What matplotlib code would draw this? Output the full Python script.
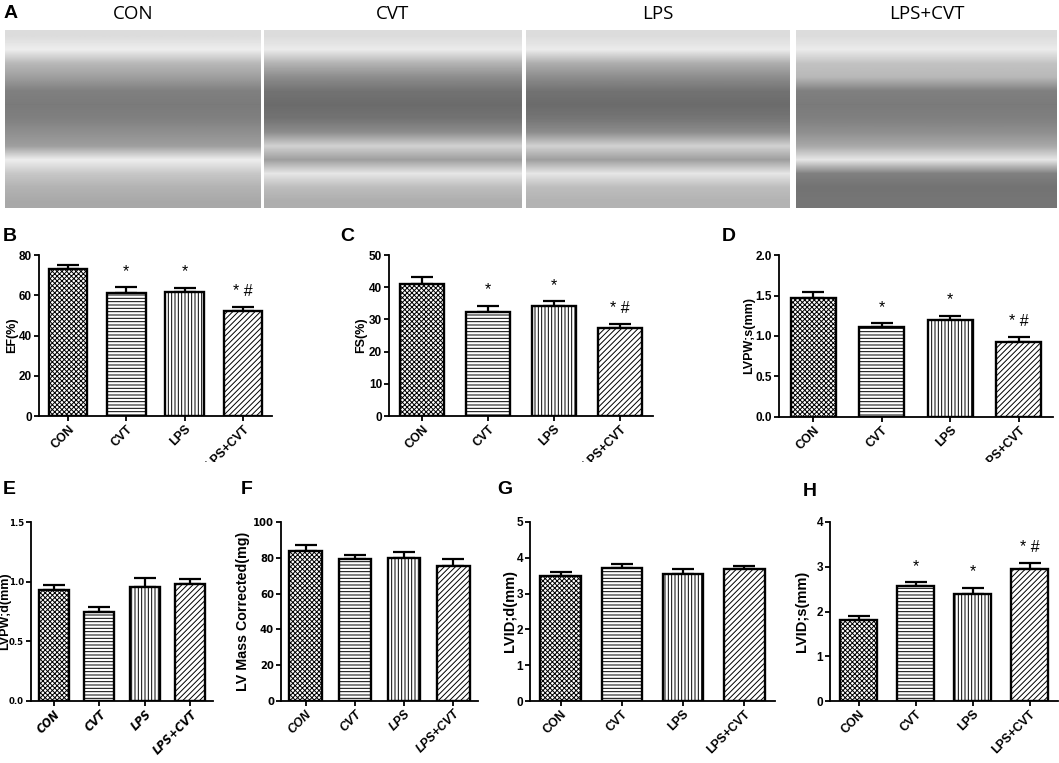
import matplotlib
matplotlib.use('Agg')
import matplotlib.pyplot as plt
import numpy as np
from matplotlib import font_manager as fm
from matplotlib.font_manager import FontProperties
from matplotlib.transforms import Bbox, TransformedBbox

# ---------------- data ----------------
groups = ['CON', 'CVT', 'LPS', 'LPS+CVT']

ef_mean = [72.8, 61.3, 61.4, 52.3]
ef_sem = [2.2, 2.8, 2.3, 1.7]
fs_mean = [40.9, 32.4, 34.3, 27.4]
fs_sem = [2.2, 1.9, 1.4, 1.2]
lvpws_mean = [1.465, 1.11, 1.20, 0.93]
lvpws_sem = [0.075, 0.05, 0.05, 0.055]
lvpwd_mean = [0.926, 0.747, 0.957, 0.982]
lvpwd_sem = [0.042, 0.042, 0.076, 0.038]
lvmass_mean = [83.8, 79.4, 79.8, 75.3]
lvmass_sem = [3.3, 2.3, 3.6, 4.1]
lvidd_mean = [3.48, 3.72, 3.56, 3.68]
lvidd_sem = [0.11, 0.12, 0.12, 0.10]
lvids_mean = [1.80, 2.56, 2.38, 2.94]
lvids_sem = [0.10, 0.09, 0.15, 0.14]

sig_main = ['', '*', '*', '* #']
sig_none = ['', '', '', '']

# grey-level profiles (top -> bottom) of the M-mode echo images
echo_con = [0.86, 0.93, 0.72, 0.62, 0.50, 0.48, 0.50, 0.56, 0.62, 0.93, 0.78, 0.70, 0.66]
echo_cvt = [0.86, 0.92, 0.70, 0.55, 0.45, 0.42, 0.45, 0.55, 0.82, 0.62, 0.90, 0.74, 0.68]
echo_lps = [0.86, 0.92, 0.68, 0.55, 0.45, 0.42, 0.46, 0.55, 0.82, 0.62, 0.90, 0.74, 0.70]
echo_lpscvt = [0.86, 0.92, 0.76, 0.72, 0.50, 0.48, 0.50, 0.56, 0.66, 0.90, 0.50, 0.45, 0.46]

# ---------------- style ----------------
W, H = 1059, 763
available = {f.name for f in fm.fontManager.ttflist}
SANS = 'Liberation Sans' if 'Liberation Sans' in available else 'DejaVu Sans'
TITLEF = 'Open Sans' if 'Open Sans' in available else SANS


def find_font(*keys):
    for f in fm.fontManager.ttflist:
        base = f.fname.split('/')[-1]
        if all(k in base for k in keys):
            return f.fname
    return None


narrow_bold = find_font('LiberationSansNarrow-Bold.')
if narrow_bold is None:
    narrow_bold = find_font('DejaVuSansCondensed-Bold.')
narrow_bolditalic = find_font('LiberationSansNarrow-BoldItalic')
if narrow_bolditalic is None:
    narrow_bolditalic = find_font('DejaVuSansCondensed-BoldOblique')


def fp(size, style='normal', narrow=False):
    if narrow:
        path = narrow_bolditalic if style == 'italic' else narrow_bold
        if path is not None:
            return FontProperties(fname=path, size=size)
    return FontProperties(family=SANS, weight='bold', style=style, size=size)


plt.rcParams['font.family'] = [SANS, 'DejaVu Sans']
plt.rcParams['hatch.linewidth'] = 0.7

fig = plt.figure(figsize=(W / 100, H / 100), dpi=100)


def px_axes(l, t, r, b):
    return fig.add_axes([l / W, 1 - b / H, (r - l) / W, (b - t) / H])


# ---------------- panel A ----------------
echo_boxes = [(5, 30, 261, 208), (264, 30, 522, 208), (526, 30, 790, 208), (796, 30, 1057, 208)]
for box, prof, name in zip(echo_boxes, [echo_con, echo_cvt, echo_lps, echo_lpscvt], groups):
    ax = px_axes(*box)
    arr = np.tile(np.array(prof)[:, None], (1, 2))
    ax.imshow(arr, cmap='gray', vmin=0, vmax=1, aspect='auto', interpolation='bilinear')
    ax.set_axis_off()
    ax.set_title(name, fontsize=13.5, family=TITLEF, pad=8)
fig.text(4 / W, 1 - 14 / H, 'A', fontsize=14, weight='bold', va='center', ha='left')

hatches = ['xxxxxxx', '-----', '|||||', '//////']


def bar_panel(box, means, sems, ymax, ystep, fmt, ylabel, ylabel_size, ylabel_x, letter,
              letter_xy, sig, ytick_size=8.5, ytick_narrow=False, xtick_narrow=False,
              xtick_style='normal', clip_bottom=None):
    ax = px_axes(*box)
    x = np.arange(len(groups))
    ax.errorbar(x, means, yerr=[np.zeros(len(sems)), sems], fmt='none', ecolor='black',
                elinewidth=1.6, capsize=8, capthick=1.6, zorder=1)
    for i in range(len(groups)):
        ax.bar(x[i], means[i], width=0.66, color='white', edgecolor='black',
               linewidth=1.7, hatch=hatches[i], zorder=2)
    for i, s in enumerate(sig):
        if s:
            ax.annotate(s, xy=(x[i], means[i] + sems[i]), xytext=(0, 6),
                        textcoords='offset points', ha='center', va='bottom',
                        fontsize=11.5)
    ax.set_xlim(-0.5, 3.5)
    ax.set_ylim(0, ymax)
    ticks = np.arange(0, ymax + ystep / 2, ystep)
    ax.set_yticks(ticks)
    ax.set_yticklabels([fmt.format(v) for v in ticks],
                       fontproperties=fp(ytick_size, narrow=ytick_narrow))
    ax.set_xticks(x)
    ax.set_xticklabels(groups, rotation=45, ha='right', rotation_mode='anchor',
                       fontproperties=fp(8.8, style=xtick_style, narrow=xtick_narrow))
    for sp in ['top', 'right']:
        ax.spines[sp].set_visible(False)
    for sp in ['left', 'bottom']:
        ax.spines[sp].set_linewidth(1.3)
    ax.tick_params(direction='out', length=3.5, width=1.3, pad=1.5)
    ax.set_ylabel(ylabel, weight='bold', fontsize=ylabel_size)
    width_px = box[2] - box[0]
    ax.yaxis.set_label_coords((ylabel_x - box[0]) / width_px, 0.5)
    ax.yaxis.label.set_verticalalignment('center')
    ax.patch.set_alpha(0)
    if clip_bottom is not None:
        cb = TransformedBbox(Bbox([[0, 1 - clip_bottom / H], [1, 1]]), fig.transFigure)
        for lab in ax.get_xticklabels():
            lab.set_clip_box(cb)
            lab.set_clip_on(True)
    fig.text(letter_xy[0] / W, 1 - letter_xy[1] / H, letter, fontsize=14, weight='bold',
             va='center', ha='left')
    return ax


bar_panel((39, 255, 272, 416), ef_mean, ef_sem, 80, 20, '{:.0f}', 'EF(%)', 9, 12, 'B',
          (3, 236), sig_main, clip_bottom=462)
bar_panel((389, 255, 653, 416), fs_mean, fs_sem, 50, 10, '{:.0f}', 'FS(%)', 9, 361, 'C',
          (340, 236), sig_main, clip_bottom=462)
bar_panel((779, 255, 1053, 417), lvpws_mean, lvpws_sem, 2.0, 0.5, '{:.1f}', 'LVPW;s(mm)', 9,
          749, 'D', (722, 236), sig_main, clip_bottom=462)

bar_panel((31, 522, 213, 701), lvpwd_mean, lvpwd_sem, 1.5, 0.5, '{:.1f}', 'LVPW;d(mm)', 9,
          5, 'E', (3, 490), sig_none, ytick_size=6.8, ytick_narrow=True,
          xtick_narrow=True, xtick_style='italic')
bar_panel((281, 522, 478, 701), lvmass_mean, lvmass_sem, 100, 20, '{:.0f}',
          'LV Mass Corrected(mg)', 10.3, 243, 'F', (241, 490), sig_none,
          ytick_size=8, ytick_narrow=True, xtick_style='italic')
bar_panel((530, 522, 775, 701), lvidd_mean, lvidd_sem, 5, 1, '{:.0f}', 'LVID;d(mm)', 10.5,
          510, 'G', (497, 490), sig_none)
bar_panel((830, 522, 1058, 701), lvids_mean, lvids_sem, 4, 1, '{:.0f}', 'LVID;s(mm)', 10.5,
          802, 'H', (803, 492), sig_main)

fig.savefig('out.png', dpi=100, facecolor='white')
